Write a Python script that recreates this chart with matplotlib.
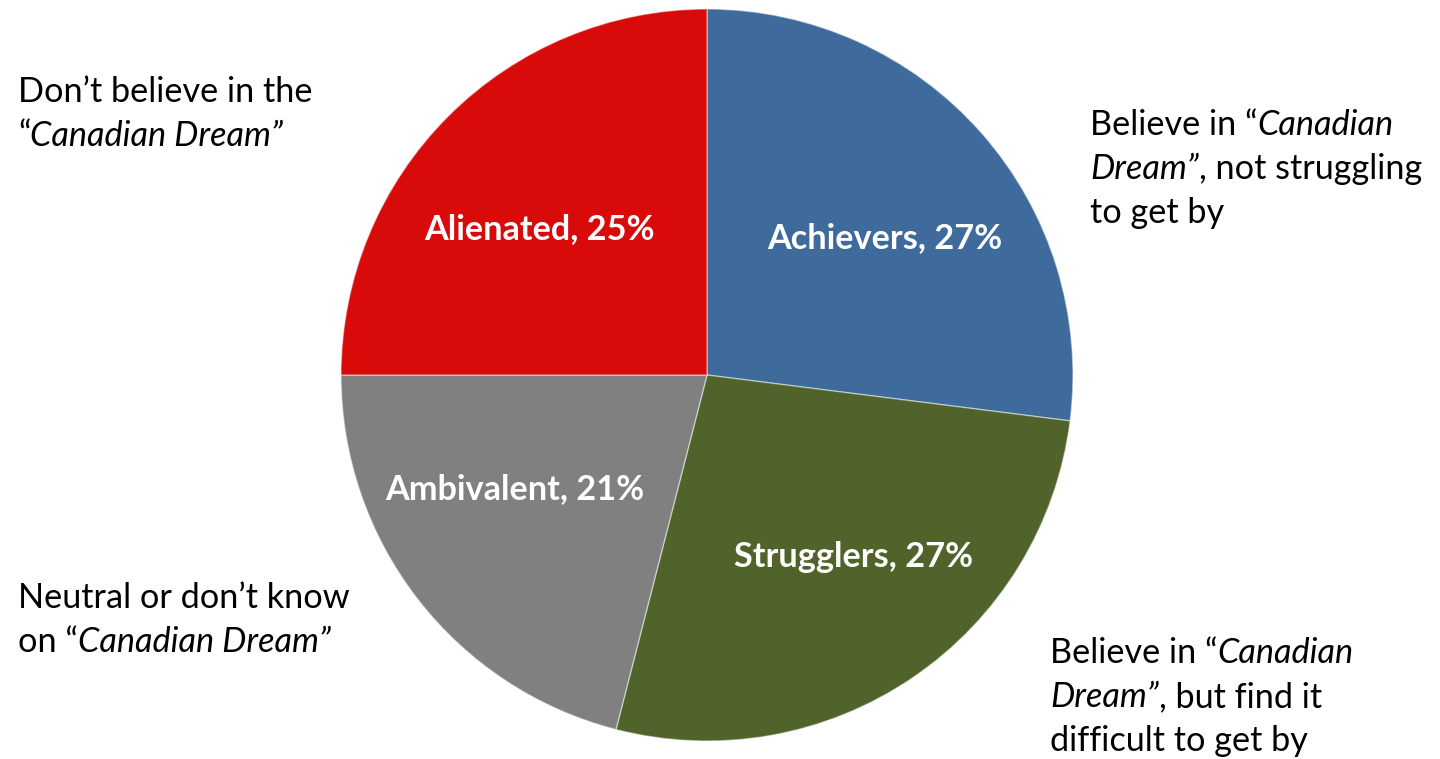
import matplotlib
matplotlib.use("Agg")
import matplotlib.pyplot as plt
from matplotlib.font_manager import FontProperties

# segment shares, clockwise from 12 o'clock
segments = ["Achievers", "Strugglers", "Ambivalent", "Alienated"]
shares = [27, 27, 21, 25]
colors = ["#3F6A9C", "#50632A", "#808080", "#D80A0A"]

# descriptions of each segment, as (text, italic) runs per line
notes = {
    "Achievers": [[("Believe in \u201c", False), ("Canadian", True)],
                  [("Dream\u201d", True), (", not struggling", False)],
                  [("to get by", False)]],
    "Strugglers": [[("Believe in \u201c", False), ("Canadian", True)],
                   [("Dream\u201d", True), (", but find it", False)],
                   [("difficult to get by", False)]],
    "Ambivalent": [[("Neutral or don\u2019t know", False)],
                   [("on \u201c", False), ("Canadian Dream\u201d", True)]],
    "Alienated": [[("Don\u2019t believe in the", False)],
                  [("\u201c", False), ("Canadian Dream\u201d", True)]],
}

FONT = "Lato"
W, H = 1440, 759

fig = plt.figure(figsize=(W / 100, H / 100), dpi=100)
ax = fig.add_axes([(707 - 366) / W, (H - 375 - 366) / H, 732 / W, 732 / H])

wedges, _ = ax.pie(shares, colors=colors, startangle=90, counterclock=False,
                   radius=1.0,
                   wedgeprops=dict(edgecolor=(1, 1, 1, 0.45), linewidth=1.0))
ax.set_xlim(-1, 1)
ax.set_ylim(-1, 1)
ax.set_aspect("equal")
ax.axis("off")

# value labels inside the wedges
label_pos = {
    "Achievers": (0.485, 0.375),
    "Strugglers": (0.400, -0.498),
    "Ambivalent": (-0.525, -0.312),
    "Alienated": (-0.458, 0.400),
}
for name, val in zip(segments, shares):
    x, y = label_pos[name]
    ax.text(x, y, f"{name}, {val}%", ha="center", va="center",
            color="white", fontsize=24.7, fontweight="bold", family=FONT)

# descriptive notes outside the pie, mixed roman / italic
renderer = fig.canvas.get_renderer()
size = 24.7


def run_width(s, prop):
    w1, _, _ = renderer.get_text_width_height_descent(s + "|", prop, ismath=False)
    w2, _, _ = renderer.get_text_width_height_descent("|", prop, ismath=False)
    return w1 - w2


def draw_note(lines, x0, y0, step):
    for i, line in enumerate(lines):
        x = x0
        y = y0 + i * step
        for s, italic in line:
            prop = FontProperties(family=FONT, size=size,
                                  style="italic" if italic else "normal")
            fig.text(x / W, 1 - y / H, s, fontproperties=prop,
                     ha="left", va="center", color="black")
            x += run_width(s, prop)


note_pos = {
    "Alienated": (18, 92),
    "Achievers": (1090, 125),
    "Ambivalent": (18, 598),
    "Strugglers": (1050, 653),
}
for name in segments:
    x0, y0 = note_pos[name]
    draw_note(notes[name], x0, y0, 44)

fig.savefig("out.png", dpi=100)
